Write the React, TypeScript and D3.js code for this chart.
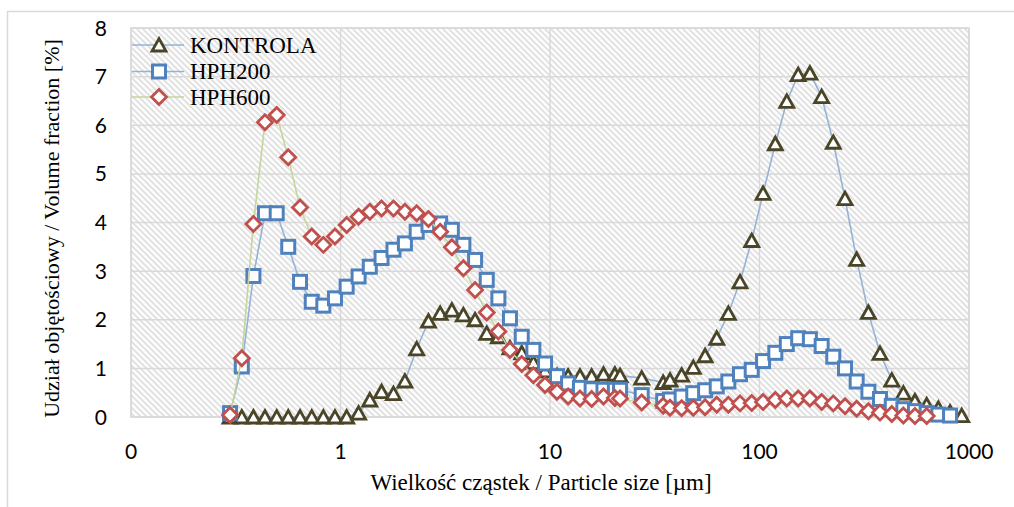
import React from 'react';
import * as d3 from 'd3';

// Particle size classes [µm]
const sizes: number[] = [
  0.297, 0.338, 0.384, 0.436, 0.496, 0.563, 0.641, 0.729, 0.828, 0.941,
  1.07, 1.22, 1.38, 1.57, 1.79, 2.03, 2.31, 2.63, 2.99, 3.40,
  3.86, 4.39, 4.99, 5.67, 6.44, 7.33, 8.33, 9.47, 10.8, 12.2,
  13.9, 15.8, 18.0, 20.4, 21.6, 27.4, 34.7, 37.4, 42.5, 48.3,
  55.0, 62.5, 71.0, 80.7, 91.8, 104, 119, 135, 153, 174,
  198, 225, 256, 291, 331, 376, 428, 486, 552, 628,
  714, 812, 923,
];

const kontrola: (number | null)[] = [
  0, 0, 0, 0, 0, 0, 0, 0, 0, 0,
  0, 0.08, 0.35, 0.52, 0.48, 0.74, 1.4, 1.97, 2.13, 2.2,
  2.1, 2.0, 1.72, 1.65, 1.42, 1.32, 1.12, 0.95, 0.85, 0.84,
  0.84, 0.84, 0.88, 0.88, 0.85, 0.8, 0.71, 0.76, 0.86, 1.02,
  1.26, 1.62, 2.13, 2.78, 3.63, 4.6, 5.62, 6.49, 7.04, 7.07,
  6.59, 5.65, 4.49, 3.24, 2.15, 1.31, 0.76, 0.49, 0.33, 0.25,
  0.18, 0.1, 0.03,
];

const hph200: (number | null)[] = [
  0.08, 1.04, 2.9, 4.19, 4.19, 3.5, 2.78, 2.37, 2.29, 2.44,
  2.68, 2.89, 3.09, 3.27, 3.44, 3.57, 3.81, 3.95, 3.98, 3.85,
  3.54, 3.23, 2.82, 2.44, 2.03, 1.65, 1.38, 1.1, 0.84, 0.69,
  0.6, 0.57, 0.56, 0.56, 0.56, 0.45, 0.33, 0.36, 0.42, 0.49,
  0.55, 0.63, 0.73, 0.88, 0.97, 1.15, 1.32, 1.5, 1.62, 1.6,
  1.46, 1.24, 1.0, 0.73, 0.52, 0.37, 0.23, 0.16, 0.12, 0.08,
  0.05, 0.03, null,
];

const hph600: (number | null)[] = [
  0.04, 1.21, 3.97, 6.06, 6.21, 5.34, 4.31, 3.71, 3.54, 3.71,
  3.95, 4.12, 4.22, 4.29, 4.29, 4.22, 4.19, 4.07, 3.81, 3.49,
  3.06, 2.61, 2.15, 1.76, 1.38, 1.09, 0.86, 0.66, 0.52, 0.42,
  0.38, 0.37, 0.42, 0.39, 0.38, 0.3, 0.23, 0.19, 0.18, 0.19,
  0.2, 0.25, 0.25, 0.28, 0.29, 0.31, 0.35, 0.38, 0.38, 0.38,
  0.31, 0.28, 0.22, 0.17, 0.12, 0.09, 0.06, 0.03, 0.02, 0.02,
  null, null, null,
];

const seriesNames = ['KONTROLA', 'HPH200', 'HPH600'];
const xTickValues = [0.1, 1, 10, 100, 1000];
const xTickLabels = ['0', '1', '10', '100', '1000'];
const yTickValues = [0, 1, 2, 3, 4, 5, 6, 7, 8];
const xTitle = 'Wielkość cząstek / Particle size [µm]';
const yTitle = 'Udział objętościowy / Volume fraction [%]';

type MarkerKind = 'triangle' | 'square' | 'diamond';

const styles: { marker: MarkerKind; stroke: string; line: string }[] = [
  { marker: 'triangle', stroke: '#4A4527', line: '#95B3D7' },
  { marker: 'square', stroke: '#4F81BD', line: '#95B3D7' },
  { marker: 'diamond', stroke: '#C0504D', line: '#C3D69B' },
];

const SERIF = '"Liberation Serif", "DejaVu Serif", serif';
const SANS = 'Lato, "Open Sans", sans-serif';

function Marker({ kind, cx, cy, color }: { kind: MarkerKind; cx: number; cy: number; color: string }) {
  if (kind === 'triangle') {
    const d = `M${cx - 7},${cy + 6} L${cx + 7},${cy + 6} L${cx},${cy - 6.5} Z`;
    return <path d={d} fill="#fff" stroke={color} strokeWidth={2.8} strokeLinejoin="miter" />;
  }
  if (kind === 'square') {
    return <rect x={cx - 6.5} y={cy - 6.5} width={13} height={13} fill="#fff" stroke={color} strokeWidth={3} />;
  }
  const r = 7.5;
  const d = `M${cx},${cy - r} L${cx + r},${cy} L${cx},${cy + r} L${cx - r},${cy} Z`;
  return <path d={d} fill="#fff" stroke={color} strokeWidth={2.8} />;
}

export default function App() {
  const W = 1014;
  const H = 507;
  const left = 131, right = 969, top = 28, bottom = 417;
  const x = d3.scaleLog().domain([0.1, 1000]).range([left, right]);
  const y = d3.scaleLinear().domain([0, 8]).range([bottom, top]);
  const grid = '#D9D9D9';

  const allSeries = [kontrola, hph200, hph600];
  const line = d3
    .line<[number, number | null]>()
    .defined((d) => d[1] !== null)
    .x((d) => x(d[0]))
    .y((d) => y(d[1] as number));

  const legendRows = [45, 71.5, 97];

  return (
    <svg
      width={W}
      height={H}
      style={{ position: 'absolute', left: 0, top: 0, background: '#fff' }}
      xmlns="http://www.w3.org/2000/svg"
    >
      <defs>
        <pattern id="hatch" width={6} height={6} patternUnits="userSpaceOnUse">
          <rect width={6} height={6} fill="#fff" />
          <path d="M-2,-2 L8,8 M-2,4 L2,8 M4,-2 L8,2" stroke="#E2E2E2" strokeWidth={2} />
        </pattern>
      </defs>
      <rect x={0} y={0} width={W} height={H} fill="#fff" />
      <rect x={7.5} y={11.5} width={W + 20} height={H + 20} fill="none" stroke={grid} strokeWidth={1.5} />

      <rect x={left} y={top} width={right - left} height={bottom - top} fill="url(#hatch)" />

      {yTickValues.map((v) => (
        <line key={'gy' + v} x1={left} x2={right} y1={y(v)} y2={y(v)} stroke={grid} strokeWidth={1.5} />
      ))}
      {xTickValues.map((v) => (
        <line key={'gx' + v} x1={x(v)} x2={x(v)} y1={top} y2={bottom} stroke={grid} strokeWidth={1.5} />
      ))}
      <rect x={left} y={top} width={right - left} height={bottom - top} fill="none" stroke={grid} strokeWidth={1.5} />

      {yTickValues.map((v) => (
        <text
          key={'ty' + v}
          x={107}
          y={y(v)}
          dy="0.36em"
          textAnchor="end"
          style={{ fontFamily: SANS, fontSize: 21 }}
          fill="#000"
        >
          {v}
        </text>
      ))}
      {xTickValues.map((v, i) => (
        <text
          key={'tx' + v}
          x={x(v)}
          y={451}
          dy="0.36em"
          textAnchor="middle"
          style={{ fontFamily: SANS, fontSize: 21 }}
          fill="#000"
        >
          {xTickLabels[i]}
        </text>
      ))}

      <text x={541} y={490} textAnchor="middle" style={{ fontFamily: SERIF, fontSize: 23 }} fill="#000">
        {xTitle}
      </text>
      <text
        transform={`translate(59,${(top + bottom) / 2 + 6}) rotate(-90)`}
        textAnchor="middle"
        style={{ fontFamily: SERIF, fontSize: 22 }}
        fill="#000"
      >
        {yTitle}
      </text>

      {allSeries.map((vals, si) => {
        const pts: [number, number | null][] = sizes.map((s, i) => [s, vals[i]]);
        return (
          <g key={'s' + si}>
            <path d={line(pts) || ''} fill="none" stroke={styles[si].line} strokeWidth={1.6} />
            {pts
              .filter((p) => p[1] !== null)
              .map((p, i) => (
                <Marker
                  key={i}
                  kind={styles[si].marker}
                  cx={x(p[0])}
                  cy={y(p[1] as number)}
                  color={styles[si].stroke}
                />
              ))}
          </g>
        );
      })}

      {seriesNames.map((name, i) => (
        <g key={'lg' + i}>
          <line x1={132} x2={184} y1={legendRows[i]} y2={legendRows[i]} stroke={styles[i].line} strokeWidth={1.6} />
          <Marker kind={styles[i].marker} cx={159} cy={legendRows[i]} color={styles[i].stroke} />
          <text x={190} y={legendRows[i]} dy="0.33em" style={{ fontFamily: SERIF, fontSize: 23 }} fill="#000">
            {name}
          </text>
        </g>
      ))}
    </svg>
  );
}
